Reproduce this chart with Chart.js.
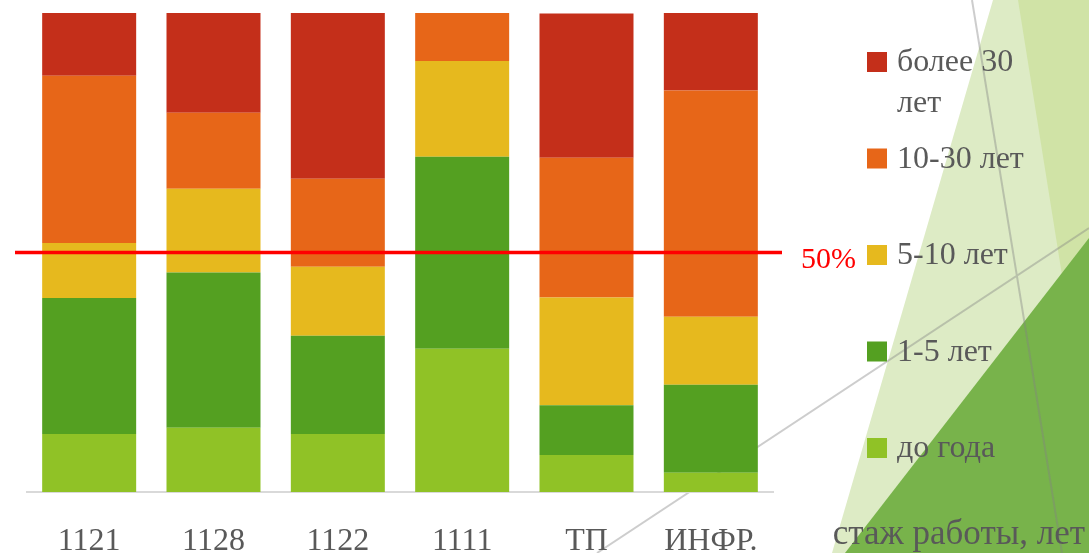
<!DOCTYPE html>
<html lang="ru">
<head>
<meta charset="utf-8">
<title>Стаж работы</title>
<script src="https://cdn.jsdelivr.net/npm/chart.js@4.4.1/dist/chart.umd.min.js"></script>
<style>
  html, body { margin: 0; padding: 0; background: #ffffff; }
  #wrap { width: 1089px; height: 553px; position: relative; }
</style>
</head>
<body>
<div id="wrap"><canvas id="stazhChart"></canvas></div>
<script>
// categories and share of staff by length of service, % (stacked bottom to top)
const categories = ["1121", "1128", "1122", "1111", "ТП", "ИНФР."];
const upToYear   = [12.1, 13.4, 12.1, 29.9, 7.7, 4.0];
const years1to5  = [28.4, 32.4, 20.5, 40.1, 10.4, 18.4];
const years5to10 = [11.5, 17.5, 14.4, 20.0, 22.5, 14.2];
const years10to30 = [34.9, 15.9, 18.4, 10.0, 29.2, 47.2];
const over30     = [13.2, 20.9, 34.7, 0, 30.1, 16.3];

const refValue = 50;
const refLabel = "50%";
const axisTitle = "стаж работы, лет";

const serif = "'Liberation Serif', 'DejaVu Serif', serif";
const textGray = "#595959";

// slide decoration behind the chart
const backdrop = {
    id: "backdrop",
    beforeDraw(chart) {
        const ctx = chart.ctx;
        const W = chart.width, H = chart.height;
        ctx.save();
        const poly = (pts, color) => {
            ctx.beginPath();
            ctx.moveTo(pts[0][0], pts[0][1]);
            pts.slice(1).forEach(p => ctx.lineTo(p[0], p[1]));
            ctx.closePath();
            ctx.fillStyle = color;
            ctx.fill();
        };
        poly([[993, 0], [W, 0], [W, H], [832, H]], "#ddebc5");
        poly([[1018, 0], [W, 0], [W, 444]], "#d0e3a6");
        poly([[W, 238], [W, H], [845, H]], "#78b34b");

        ctx.strokeStyle = "rgba(130,130,130,0.4)";
        ctx.lineWidth = 2;
        ctx.beginPath();
        ctx.moveTo(972, 0);
        ctx.lineTo(1062, H);
        ctx.moveTo(W, 228);
        ctx.lineTo(597, H);
        ctx.stroke();
        ctx.restore();
    }
};

// red reference line with its label
const refLine = {
    id: "refLine",
    afterDatasetsDraw(chart) {
        const { ctx, chartArea } = chart;
        const y = chart.scales.y.getPixelForValue(refValue);
        ctx.save();
        ctx.strokeStyle = "#ff0000";
        ctx.lineWidth = 3.5;
        ctx.beginPath();
        ctx.moveTo(chartArea.left - 12, y);
        ctx.lineTo(chartArea.right + 9, y);
        ctx.stroke();
        ctx.fillStyle = "#ff0000";
        ctx.font = "30px " + serif;
        ctx.textBaseline = "middle";
        ctx.textAlign = "left";
        ctx.fillText(refLabel, chartArea.right + 28, y + 8);
        ctx.restore();
    }
};

// legend down the right side plus the axis caption
const sideLegend = {
    id: "sideLegend",
    afterDraw(chart) {
        const ctx = chart.ctx;
        const boxX = 867, textX = 897, maxW = 140;
        const rowTop = 62, rowStep = 96.5, lineH = 41;
        ctx.save();
        ctx.font = "32px " + serif;
        ctx.textBaseline = "middle";
        ctx.textAlign = "left";
        const sets = chart.data.datasets.slice().reverse();
        sets.forEach((ds, i) => {
            const cy = rowTop + i * rowStep;
            ctx.fillStyle = ds.backgroundColor;
            ctx.fillRect(boxX, cy - 10, 20, 20);
            // simple word wrap
            const words = ds.label.split(" ");
            const lines = [];
            let cur = "";
            words.forEach(w => {
                const test = cur ? cur + " " + w : w;
                if (cur && ctx.measureText(test).width > maxW) {
                    lines.push(cur);
                    cur = w;
                } else {
                    cur = test;
                }
            });
            lines.push(cur);
            ctx.fillStyle = textGray;
            lines.forEach((ln, k) => ctx.fillText(ln, textX, cy + 1 + k * lineH));
        });
        ctx.font = "35px " + serif;
        ctx.textAlign = "right";
        ctx.fillText(axisTitle, 1085, 535);
        ctx.restore();
    }
};

new Chart(document.getElementById("stazhChart"), {
    type: "bar",
    data: {
        labels: categories,
        datasets: [
            { label: "до года", data: upToYear, backgroundColor: "#90c226" },
            { label: "1-5 лет", data: years1to5, backgroundColor: "#54a021" },
            { label: "5-10 лет", data: years5to10, backgroundColor: "#e6b91e" },
            { label: "10-30 лет", data: years10to30, backgroundColor: "#e76618" },
            { label: "более 30 лет", data: over30, backgroundColor: "#c42f1a" }
        ]
    },
    options: {
        responsive: true,
        maintainAspectRatio: false,
        animation: false,
        devicePixelRatio: 1,
        layout: { padding: { left: 27, right: 316, top: 13, bottom: 0 } },
        datasets: {
            bar: { categoryPercentage: 1, barPercentage: 0.756, borderWidth: 0 }
        },
        plugins: {
            legend: { display: false },
            tooltip: { enabled: false }
        },
        scales: {
            x: {
                stacked: true,
                grid: { display: false },
                border: { display: true, color: "#d9d9d9", width: 2 },
                ticks: {
                    color: textGray,
                    font: { family: serif, size: 32 },
                    padding: 22
                },
                // keep the label band the same height as on the slide
                afterFit(scale) {
                    scale.height = 61;
                }
            },
            y: {
                stacked: true,
                display: false,
                min: 0,
                max: 100
            }
        }
    },
    plugins: [backdrop, refLine, sideLegend]
});
</script>
</body>
</html>
